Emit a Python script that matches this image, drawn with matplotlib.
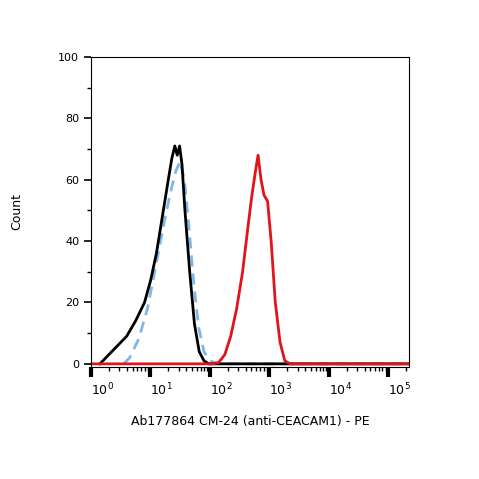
import numpy as np
import matplotlib
matplotlib.use("Agg")
from matplotlib import pyplot as plt
from matplotlib.ticker import LogLocator, NullFormatter

# log10 of fluorescence and counts
black_lx = [0.15, 0.3, 0.45, 0.6, 0.75, 0.9, 1.0, 1.1, 1.2, 1.3, 1.36, 1.41, 1.45, 1.49, 1.53, 1.58, 1.66, 1.74, 1.82, 1.9, 1.98, 2.08, 5.35]
black_y = [0, 3, 6, 9, 14, 20, 27, 36, 48, 60, 67, 71, 68, 71, 65, 50, 30, 13, 4, 1, 0, 0, 0]
blue_lx = [0.55, 0.65, 0.8, 0.95, 1.05, 1.15, 1.25, 1.35, 1.43, 1.5, 1.57, 1.65, 1.73, 1.81, 1.9, 2.0, 2.15, 5.35]
blue_y = [0, 2, 8, 18, 28, 38, 48, 57, 63, 66, 60, 44, 26, 12, 4, 1, 0, 0]
red_lx = [0.0, 2.05, 2.15, 2.25, 2.35, 2.45, 2.55, 2.63, 2.7, 2.76, 2.81, 2.86, 2.91, 2.97, 3.03, 3.1, 3.18, 3.26, 3.35, 5.35]
red_y = [0, 0, 0.5, 3, 9, 18, 30, 43, 54, 62, 68, 60, 55, 53, 40, 20, 7, 1, 0, 0]

fig = plt.figure(figsize=(4.79, 4.79), dpi=100)
ax = fig.add_axes([0.19, 0.234, 0.664, 0.647])
ax.plot(10 ** np.array(blue_lx), blue_y, color="#7fb8e6", lw=2, ls=(0, (4, 2.5)))
ax.plot(10 ** np.array(black_lx), black_y, color="black", lw=2)
ax.plot(10 ** np.array(red_lx), red_y, color="#e0141a", lw=2)

ax.set_xscale("log")
ax.set_xlim(1, 10 ** 5.35)
ax.set_ylim(-1, 100)
ax.set_yticks([0, 20, 40, 60, 80, 100])
ax.set_yticks(np.arange(0, 101, 10), minor=True)
ax.xaxis.set_major_locator(LogLocator(base=10, numticks=10))
ax.xaxis.set_minor_locator(LogLocator(base=10, subs=np.arange(2, 10), numticks=20))
ax.xaxis.set_minor_formatter(NullFormatter())
ax.tick_params(axis="both", which="major", direction="out", length=5, width=1.2, labelsize=8)
ax.tick_params(axis="both", which="minor", direction="out", length=3, width=1)
ax.tick_params(axis="x", which="major", length=7, width=3, labelsize=9)
for lab in ax.get_xticklabels():
    lab.set_horizontalalignment("left")
ax.set_ylabel("Count", fontsize=9, labelpad=25)
ax.set_xlabel("Ab177864 CM-24 (anti-CEACAM1) - PE", fontsize=9, labelpad=12)
fig.savefig("out.png", dpi=100)
